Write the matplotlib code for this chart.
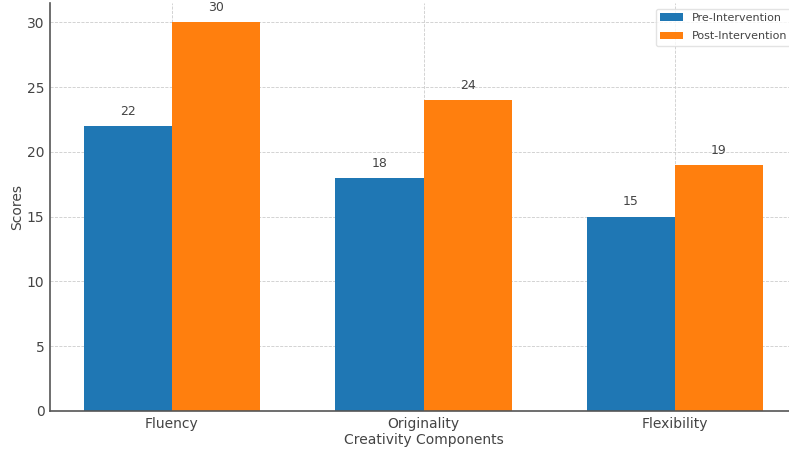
import numpy as np
import matplotlib.pyplot as plt

components = ["Fluency", "Originality", "Flexibility"]
pre_scores = [22, 18, 15]
post_scores = [30, 24, 19]

text_color = "#444444"
plt.rcParams["font.family"] = "DejaVu Sans"
plt.rcParams["text.color"] = text_color
plt.rcParams["axes.labelcolor"] = text_color
plt.rcParams["xtick.color"] = text_color
plt.rcParams["ytick.color"] = text_color

fig = plt.figure(figsize=(7.89, 4.5), dpi=100)
ax = fig.add_axes([50 / 789, 39 / 450, 747 / 789, 408 / 450])

x = np.arange(len(components))
width = 0.35
bars_pre = ax.bar(x - width / 2, pre_scores, width, color="#1f77b4", label="Pre-Intervention", zorder=2)
bars_post = ax.bar(x + width / 2, post_scores, width, color="#ff7f0e", label="Post-Intervention", zorder=2)

for bars in (bars_pre, bars_post):
    for b in bars:
        ax.annotate("{}".format(int(b.get_height())),
                    xy=(b.get_x() + b.get_width() / 2, b.get_height()),
                    xytext=(0, 6), textcoords="offset points",
                    ha="center", va="bottom", fontsize=9, color=text_color)

ax.set_xticks(x)
ax.set_xticklabels(components, fontsize=10)
ax.tick_params(axis="both", length=0, pad=4, labelsize=10)
ax.set_xlabel("Creativity Components", fontsize=10, labelpad=2)
ax.set_ylabel("Scores", fontsize=10, labelpad=2)
ax.set_ylim(0, 31.5)

ax.grid(True, linestyle="--", linewidth=0.6, color="#cccccc", zorder=0)
ax.set_axisbelow(True)
for side in ("top", "right"):
    ax.spines[side].set_visible(False)
for side in ("left", "bottom"):
    ax.spines[side].set_color("#555555")
    ax.spines[side].set_linewidth(1.2)

ax.legend(loc="upper right", fontsize=8, labelspacing=0.75, framealpha=0.8, edgecolor="#dddddd")

fig.savefig("out.png", dpi=100)
